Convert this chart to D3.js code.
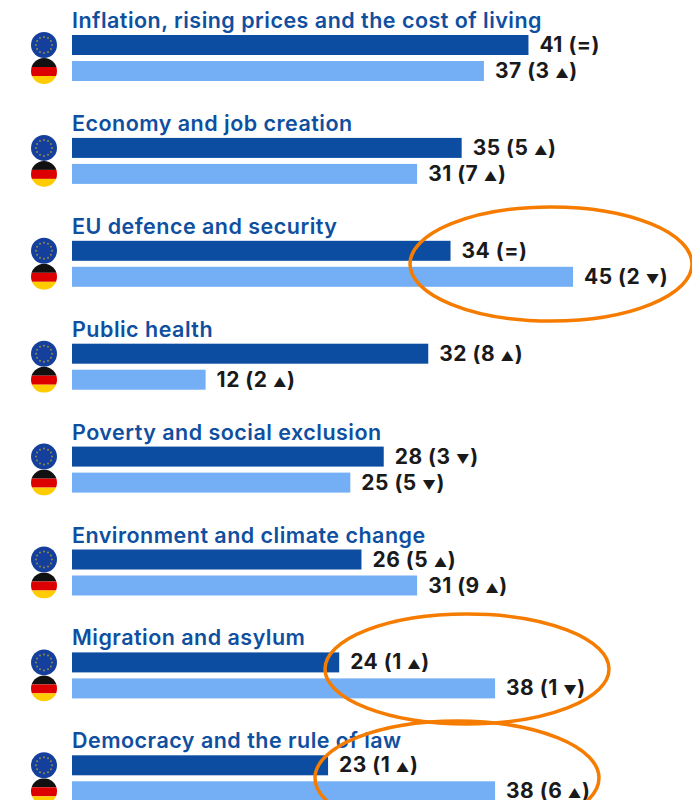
<!DOCTYPE html>
<html>
<head>
<meta charset="utf-8">
<script src="https://cdn.jsdelivr.net/npm/d3@7"></script>
<style>
  html, body { margin: 0; padding: 0; background: #fff; }
  svg { display: block; }
  text { font-family: "Inter", sans-serif; }
  .topic { font-size: 21.5px; font-weight: 600; fill: #0f4f9f; letter-spacing: 0.48px; }
  .value { font-size: 21px; font-weight: 700; fill: #1a1a1a; letter-spacing: 0.5px; }
  .arrow { font-size: 13px; }
</style>
</head>
<body>
<div id="chart"></div>
<script>
var topics = [
  "Inflation, rising prices and the cost of living",
  "Economy and job creation",
  "EU defence and security",
  "Public health",
  "Poverty and social exclusion",
  "Environment and climate change",
  "Migration and asylum",
  "Democracy and the rule of law"
];

// EU average
var euValues = [41, 35, 34, 32, 28, 26, 24, 23];
var euChange = ["=", "5 ▲", "=", "8 ▲", "3 ▼", "5 ▲", "1 ▲", "1 ▲"];

// Germany
var deValues = [37, 31, 45, 12, 25, 31, 38, 38];
var deChange = ["3 ▲", "7 ▲", "2 ▼", "2 ▲", "5 ▼", "9 ▲", "1 ▼", "6 ▲"];

var svgWidth = 692;
var svgHeight = 800;

var euColor = "#0c4da2";
var deColor = "#74aef5";
var ringColor = "#f67c00";

var x = d3.scaleLinear().domain([0, 45]).range([72, 573]);
var y = d3.scaleBand().domain(topics).range([8, 8 + 102.9 * topics.length]);

var svg = d3.select("#chart").append("svg")
  .attr("width", svgWidth)
  .attr("height", svgHeight);

var defs = svg.append("defs");
defs.append("clipPath").attr("id", "flagClip")
  .append("circle").attr("r", 13);

var rows = svg.selectAll("g.row")
  .data(topics)
  .enter()
  .append("g")
  .attr("class", "row")
  .attr("transform", d => `translate(0, ${y(d)})`);

rows.append("text")
  .attr("class", "topic")
  .attr("x", x(0))
  .attr("y", 20)
  .text(d => d);

// the two bars of each row
rows.append("rect")
  .attr("x", x(0))
  .attr("y", 27)
  .attr("height", 20)
  .attr("width", (d, i) => x(euValues[i]) - x(0))
  .attr("fill", euColor);

rows.append("rect")
  .attr("x", x(0))
  .attr("y", 53)
  .attr("height", 20)
  .attr("width", (d, i) => x(deValues[i]) - x(0))
  .attr("fill", deColor);

// value labels, the arrow gets a smaller size
function addLabel(sel, values, changes, top) {
  var label = sel.append("text")
    .attr("class", "value")
    .attr("x", (d, i) => x(values[i]) + 11)
    .attr("y", top);
  label.each(function(d, i) {
    var t = d3.select(this);
    var parts = changes[i].split(" ");
    t.append("tspan").text(values[i] + " (" + parts[0]);
    if (parts[1]) {
      t.append("tspan").text(" ");
      t.append("tspan").attr("class", "arrow").text(parts[1]);
    }
    t.append("tspan").text(")");
  });
}
addLabel(rows, euValues, euChange, 44);
addLabel(rows, deValues, deChange, 70);

// EU flag
var stars = d3.range(12);
var eu = rows.append("g").attr("transform", "translate(44, 37)");
eu.append("circle").attr("r", 13).attr("fill", "#143f9c");
eu.selectAll("circle.star")
  .data(stars)
  .enter()
  .append("circle")
  .attr("class", "star")
  .attr("r", 1)
  .attr("cx", d => 8 * Math.cos(d / 12 * 2 * Math.PI))
  .attr("cy", d => 8 * Math.sin(d / 12 * 2 * Math.PI))
  .attr("fill", "#8f8a4a");

// German flag
var de = rows.append("g")
  .attr("transform", "translate(44, 63)")
  .attr("clip-path", "url(#flagClip)");
de.append("rect").attr("x", -13).attr("y", -13).attr("width", 26).attr("height", 9).attr("fill", "#111");
de.append("rect").attr("x", -13).attr("y", -4).attr("width", 26).attr("height", 9).attr("fill", "#dd0000");
de.append("rect").attr("x", -13).attr("y", 5).attr("width", 26).attr("height", 8).attr("fill", "#ffcc00");

// orange hand drawn rings
var rings = [
  { cx: 551, cy: 264, rx: 141, ry: 57 },
  { cx: 467, cy: 669, rx: 142, ry: 55 },
  { cx: 457, cy: 778, rx: 142, ry: 57 }
];
svg.selectAll("ellipse")
  .data(rings)
  .enter()
  .append("ellipse")
  .attr("cx", d => d.cx)
  .attr("cy", d => d.cy)
  .attr("rx", d => d.rx)
  .attr("ry", d => d.ry)
  .attr("fill", "none")
  .attr("stroke", ringColor)
  .attr("stroke-width", 3.5);
</script>
</body>
</html>
